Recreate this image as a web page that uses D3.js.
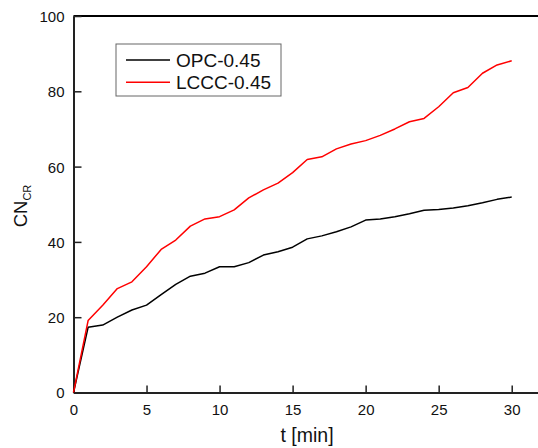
<!DOCTYPE html>
<html>
<head>
<meta charset="utf-8">
<script src="https://cdn.jsdelivr.net/npm/d3@7"></script>
<style>
    html, body { margin: 0; padding: 0; background: #fff; }
    svg { display: block; font-family: Arial, "Liberation Sans", sans-serif; }
</style>
</head>
<body>
<svg id="chart" width="538" height="448"></svg>
<script>
// t [min]
var times = d3.range(0, 31);
var opc = [0, 17.3, 17.9, 20.0, 21.9, 23.2, 26.0, 28.7, 30.9, 31.7, 33.4, 33.4, 34.5, 36.5, 37.4, 38.6,
    40.8, 41.6, 42.7, 44.0, 45.8, 46.1, 46.7, 47.5, 48.4, 48.6, 49.0, 49.6, 50.4, 51.3, 51.9];
var lccc = [0, 19.1, 23.2, 27.6, 29.4, 33.4, 38.0, 40.5, 44.2, 46.1, 46.7, 48.5, 51.7, 53.8, 55.6, 58.4,
    61.9, 62.6, 64.7, 66.0, 66.9, 68.3, 70.0, 71.9, 72.8, 75.9, 79.6, 81.0, 84.8, 87.0, 88.1];
var xTicks = [0, 5, 10, 15, 20, 25, 30];
var yTicks = [0, 20, 40, 60, 80, 100];
var seriesNames = ['OPC-0.45', 'LCCC-0.45'];
var seriesColors = ['#000000', '#ff0000'];

(function () {
    var svg = d3.select('#chart');
    var left = 73.5, top = 16, bottom = 392.5, right = 538;

    var x = d3.scaleLinear().domain([0, 31.8]).range([left, right]);
    var y = d3.scaleLinear().domain([0, 100]).range([bottom, top]);

    // top frame line
    svg.append('line')
        .attr('x1', left).attr('x2', right)
        .attr('y1', top).attr('y2', top)
        .attr('stroke', '#000').attr('stroke-width', 2);

    var xAxis = svg.append('g')
        .attr('transform', 'translate(0,' + bottom + ')')
        .call(d3.axisBottom(x).tickValues(xTicks).tickSize(-7).tickPadding(12).tickSizeOuter(0));
    var yAxis = svg.append('g')
        .attr('transform', 'translate(' + left + ',0)')
        .call(d3.axisLeft(y).tickValues(yTicks).tickSize(-8).tickPadding(9).tickSizeOuter(0));

    [xAxis, yAxis].forEach(function (g) {
        g.select('.domain').attr('stroke', '#222').attr('stroke-width', 2);
        g.selectAll('.tick line').attr('stroke', '#222').attr('stroke-width', 1.5);
        g.selectAll('.tick text').attr('fill', '#111').attr('font-size', 15)
            .attr('font-family', 'Arial, "Liberation Sans", sans-serif');
    });
    xAxis.selectAll('.tick text').attr('dy', '0.71em');
    yAxis.selectAll('.tick text').attr('dy', '0.36em');

    var line = d3.line()
        .x(function (d) { return x(d[0]); })
        .y(function (d) { return y(d[1]); });

    [opc, lccc].forEach(function (vals, i) {
        svg.append('path')
            .datum(times.map(function (t, j) { return [t, vals[j]]; }))
            .attr('fill', 'none')
            .attr('stroke', seriesColors[i])
            .attr('stroke-width', 1.5)
            .attr('stroke-linejoin', 'round')
            .attr('d', line);
    });

    // axis titles
    svg.append('text')
        .attr('x', 307).attr('y', 442)
        .attr('text-anchor', 'middle')
        .attr('font-size', 19.5).attr('fill', '#111')
        .text('t [min]');

    var yt = svg.append('text')
        .attr('transform', 'translate(27,206) rotate(-90)')
        .attr('text-anchor', 'middle')
        .attr('font-size', 18.5).attr('fill', '#111');
    yt.append('tspan').text('CN');
    yt.append('tspan').attr('font-size', 11).attr('dy', 4).text('CR');

    // legend
    var lg = svg.append('g');
    lg.append('rect')
        .attr('x', 116).attr('y', 44)
        .attr('width', 165).attr('height', 52)
        .attr('fill', '#fff').attr('stroke', '#666').attr('stroke-width', 1);
    seriesNames.forEach(function (name, i) {
        var ly = 60 + i * 22.3;
        lg.append('line')
            .attr('x1', 126).attr('x2', 170)
            .attr('y1', ly).attr('y2', ly)
            .attr('stroke', seriesColors[i]).attr('stroke-width', 1.5);
        lg.append('text')
            .attr('x', 176).attr('y', ly).attr('dy', '0.36em')
            .attr('font-size', 19).attr('fill', '#111')
            .text(name);
    });
})();
</script>
</body>
</html>
